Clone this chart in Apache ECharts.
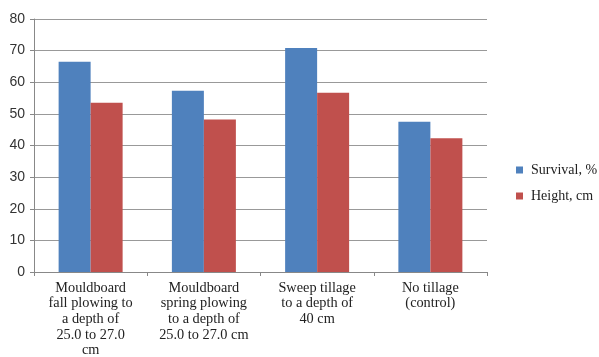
<!DOCTYPE html>
<html>
<head>
<meta charset="utf-8">
<script src="https://cdn.jsdelivr.net/npm/echarts@6/dist/echarts.min.js"></script>
<style>
  * { margin: 0; padding: 0; }
  html, body { background: #fff; }
  #chart-container { width: 599px; height: 357px; }
</style>
</head>
<body>
<div id="chart-container"></div>
<script>
  var categories = [
    'Mouldboard\nfall plowing to\na depth of\n25.0 to 27.0\ncm',
    'Mouldboard\nspring plowing\nto a depth of\n25.0 to 27.0 cm',
    'Sweep tillage\nto a depth of\n40 cm',
    'No tillage\n(control)'
  ]
  var survival = [66.5, 57.3, 70.8, 47.5]
  var height = [53.5, 48.2, 56.7, 42.3]
  var yTicks = [0, 10, 20, 30, 40, 50, 60, 70, 80]

  var chartDom = document.getElementById('chart-container')
  var myChart = echarts.init(chartDom, null, { renderer: 'canvas' })
  var serif = 'Liberation Serif'

  var option = {
    animation: false,
    backgroundColor: '#fff',
    grid: { left: 34, right: 112, top: 19, bottom: 85, outerBoundsMode: 'none' },
    legend: {
      orient: 'vertical',
      left: 511,
      top: 158,
      itemWidth: 7,
      itemHeight: 7,
      itemGap: 12,
      icon: 'rect',
      textStyle: { fontFamily: serif, fontSize: 14, color: '#222', padding: [0, 0, 0, 3] },
      data: ['Survival, %', 'Height, cm']
    },
    xAxis: {
      type: 'category',
      data: categories,
      axisLine: { lineStyle: { color: '#888' } },
      axisTick: { show: true, length: 4, lineStyle: { color: '#888' } },
      axisLabel: {
        interval: 0,
        margin: 8,
        fontFamily: serif,
        fontSize: 14.3,
        lineHeight: 15.7,
        color: '#222'
      }
    },
    yAxis: {
      type: 'value',
      min: yTicks[0],
      max: yTicks[yTicks.length - 1],
      interval: 10,
      axisLine: { show: true, lineStyle: { color: '#888' } },
      axisTick: { show: true, length: 4, lineStyle: { color: '#888' } },
      axisLabel: {
        margin: 9,
        fontFamily: 'Liberation Sans',
        fontSize: 14,
        color: '#333'
      },
      splitLine: { lineStyle: { color: '#999' } }
    },
    series: [
      {
        name: 'Survival, %',
        type: 'bar',
        data: survival,
        barWidth: 32,
        barGap: '0%',
        itemStyle: { color: '#4F81BD' }
      },
      {
        name: 'Height, cm',
        type: 'bar',
        data: height,
        barWidth: 32,
        barGap: '0%',
        itemStyle: { color: '#C0504D' }
      }
    ]
  }
  myChart.setOption(option)
</script>
</body>
</html>
